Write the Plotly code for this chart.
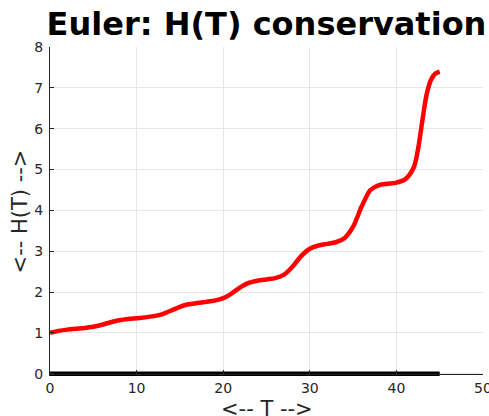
import plotly.graph_objects as go

# Time samples and the recorded energy H(T) of the Euler integrator
t_values = [0, 1, 2, 3, 4, 5, 6, 7, 8, 9, 10, 11, 12, 13, 14, 15, 16, 17, 18, 19,
            20, 21, 22, 23, 24, 25, 26, 27, 28, 29, 30, 31, 32, 33, 34, 35, 36, 37,
            38, 39, 40, 41, 42, 42.5, 43, 43.5, 44, 44.5, 45]
h_values = [1.00, 1.05, 1.08, 1.10, 1.12, 1.15, 1.20, 1.26, 1.31, 1.34, 1.36, 1.38,
            1.41, 1.46, 1.55, 1.64, 1.70, 1.73, 1.76, 1.79, 1.85, 1.97, 2.12, 2.23,
            2.28, 2.31, 2.34, 2.42, 2.62, 2.88, 3.06, 3.14, 3.18, 3.22, 3.32, 3.60,
            4.10, 4.50, 4.62, 4.65, 4.68, 4.76, 5.05, 5.50, 6.20, 6.85, 7.20, 7.35, 7.40]

# Reference level drawn along the time span
ref_t = [0, 45]
ref_h = [0, 0]

x_ticks = [0, 10, 20, 30, 40, 50]
y_ticks = [0, 1, 2, 3, 4, 5, 6, 7, 8]

Y_MIN, Y_MAX = -0.055, 8  # a little room below zero so the thick base line is not cut

FONT = "DejaVu Sans"
TEXT = "#262626"
GRID = "#e6e6e6"

fig = go.Figure()
fig.add_trace(go.Scatter(x=ref_t, y=ref_h, mode="lines",
                         line=dict(color="black", width=4.5), showlegend=False))
fig.add_trace(go.Scatter(x=t_values, y=h_values, mode="lines",
                         line=dict(color="red", width=4.5, shape="spline", smoothing=0.8),
                         showlegend=False))

fig.update_layout(
    width=489, height=416,
    margin=dict(l=50, r=6, t=47, b=40),
    paper_bgcolor="white", plot_bgcolor="white",
    font=dict(family=FONT, color=TEXT),
    title=dict(text="<b>Euler: H(T) conservation</b>",
               font=dict(family=FONT, size=32, color="black"),
               x=0.5, xref="paper", xanchor="center",
               y=1 - 24 / 416, yref="container", yanchor="middle"),
)
fig.update_xaxes(
    range=[0, 50], tickvals=x_ticks, ticktext=[str(v) for v in x_ticks],
    anchor="free", position=-Y_MIN / (Y_MAX - Y_MIN),
    showgrid=True, gridcolor=GRID, gridwidth=1,
    showline=True, linecolor=TEXT, linewidth=1,
    ticks="inside", ticklen=4, tickcolor=TEXT,
    tickfont=dict(size=14, color=TEXT), zeroline=False,
    ticklabeloverflow="allow", ticklabelstandoff=1, automargin=False,
)
fig.update_yaxes(
    range=[Y_MIN, Y_MAX], tickvals=y_ticks, ticktext=[str(v) for v in y_ticks],
    showgrid=True, gridcolor=GRID, gridwidth=1,
    showline=True, linecolor=TEXT, linewidth=1,
    ticks="inside", ticklen=4, tickcolor=TEXT,
    tickfont=dict(size=14, color=TEXT), zeroline=False,
    ticklabeloverflow="allow", ticklabelstandoff=3, automargin=False,
    title=dict(text="<-- H(T) -->", font=dict(size=21, color=TEXT), standoff=0),
)

# x-axis label placed below the tick labels
fig.add_annotation(text="<-- T -->", xref="paper", yref="paper", x=0.5, y=0,
                   xanchor="center", yanchor="middle", yshift=-33, showarrow=False,
                   font=dict(family=FONT, size=21, color=TEXT))

fig.write_html("out.html")
